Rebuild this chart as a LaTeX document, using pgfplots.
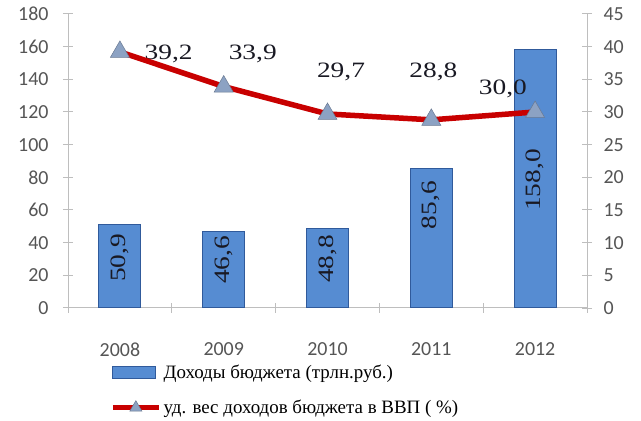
\documentclass[border=0pt]{standalone}
\usepackage{fontspec}
\setmainfont{Liberation Serif}
\newfontfamily\tickfont{Carlito}
\newfontfamily\lblfont[FakeStretch=1.25]{Liberation Serif}
\usepackage{pgfplots}
\pgfplotsset{compat=1.18}

\definecolor{barfill}{RGB}{86,140,210}
\definecolor{baredge}{RGB}{48,90,155}
\definecolor{linered}{RGB}{200,0,0}
\definecolor{markfill}{RGB}{140,162,195}
\definecolor{axisgray}{RGB}{190,190,190}
\definecolor{ticktext}{RGB}{85,85,85}
\definecolor{lbltext}{RGB}{25,25,35}

\pgfplotsset{
  base/.style={
    at={(68bp,113bp)}, anchor=south west,
    scale only axis, width=519bp, height=294bp,
    xmin=-0.5, xmax=4.5,
    axis line style={axisgray, line width=1bp, -},
    tick align=center, major tick length=10bp,
    tick style={axisgray, line width=1bp},
    tick label style={font=\tickfont\fontsize{20}{22}\selectfont, text=ticktext},
    /pgf/number format/assume math mode=true,
    clip=false,
  },
  barstyle/.style={draw=baredge, line width=1bp, fill=barfill},
  barleg/.style={legend image code/.code={\draw[##1] (0bp,-6bp) rectangle (43bp,6bp);}},
  lineleg/.style={legend image code/.code={\draw[##1, mark repeat=2, mark phase=2, mark size=7bp]
    plot coordinates {(0bp,0bp) (23bp,0bp) (46bp,0bp)};}},
}

\begin{document}
\begin{tikzpicture}
\path[use as bounding box] (0,0) rectangle (641bp,421bp);

% left axis: budget revenue, bars
\begin{axis}[base,
  ymin=0, ymax=180,
  axis y line*=left, axis x line*=bottom,
  ytick={0,20,...,180},
  yticklabel style={xshift=-11bp},
  xtick={-0.5,0.5,1.5,2.5,3.5,4.5}, xticklabels={},
  extra x ticks={0,1,2,3,4},
  extra x tick labels={2008,2009,2010,2011,2012},
  extra x tick style={major tick length=0pt, tick label style={yshift=-31bp}},
]
\addplot[ybar, bar width=42bp, barstyle]
  coordinates {(0,50.9) (1,46.6) (2,48.8) (3,85.6) (4,158.0)};

\begin{scope}[every node/.style={rotate=90, text=lbltext, font=\lblfont\fontsize{22}{24}\selectfont}]
\node at (axis cs:0,30.6) {50,9};
\node at (axis cs:1,29.4) {46,6};
\node at (axis cs:2,30.0) {48,8};
\node at (axis cs:3,63.0) {85,6};
\node at (axis cs:4,78.4) {158,0};
\end{scope}

\begin{scope}[every node/.style={text=lbltext, font=\lblfont\fontsize{22}{24}\selectfont}]
\node at (axis cs:0.47,155.5) {39,2};
\node at (axis cs:1.28,155.5) {33,9};
\node at (axis cs:2.13,144.5) {29,7};
\node at (axis cs:3.02,144.5) {28,8};
\node at (axis cs:3.69,134.0) {30,0};
\end{scope}
\end{axis}

% right axis: share of GDP, line
\begin{axis}[base,
  ymin=0, ymax=45,
  axis y line*=right, axis x line=none,
  ytick={0,5,...,45},
  yticklabel style={xshift=8bp},
  legend style={at={(0.075,-0.18)}, anchor=north west, draw=none, fill=none,
    font=\fontsize{19}{21}\selectfont, row sep=16bp,
    /tikz/every odd column/.append style={xshift=-4bp}},
  legend cell align=left,
]
\addlegendimage{barstyle, barleg}
\addlegendentry{Доходы бюджета (трлн.руб.)}

\addplot[linered, line width=5.5bp, mark=triangle*, mark size=11bp,
  mark options={fill=markfill, draw=markfill!75!black, line width=0.5bp}, lineleg]
  coordinates {(0,39.2) (1,33.9) (2,29.7) (3,28.8) (4,30.0)};
\addlegendentry{уд. вес доходов бюджета в ВВП ( \%)}
\end{axis}
\end{tikzpicture}
\end{document}
